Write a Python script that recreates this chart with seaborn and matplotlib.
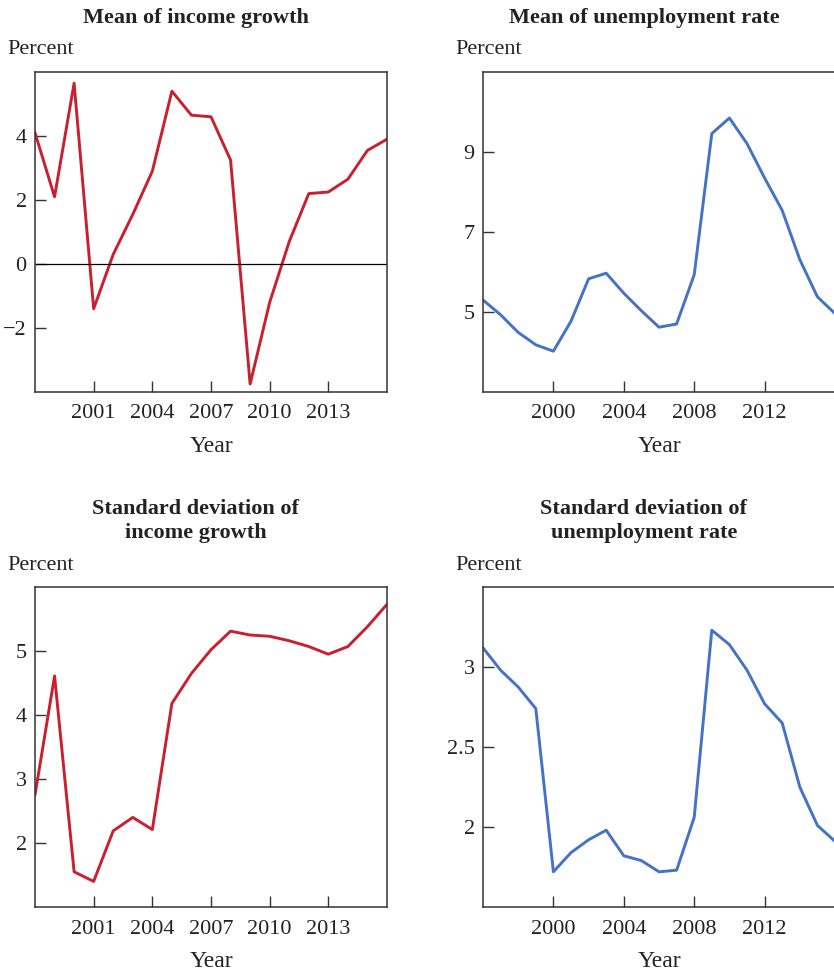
import numpy as np
import pandas as pd
import matplotlib.pyplot as plt
import seaborn as sns

# años
years_income = list(range(1998, 2017))
years_unemp = list(range(1996, 2017))

income_mean = [4.1, 2.1, 5.65, -1.4, 0.3, 1.55, 2.9, 5.4, 4.65, 4.6, 3.25,
               -3.75, -1.2, 0.7, 2.2, 2.25, 2.65, 3.55, 3.9]
income_sd = [2.75, 4.61, 1.55, 1.4, 2.19, 2.4, 2.21, 4.18, 4.65, 5.02, 5.31,
             5.25, 5.23, 5.16, 5.07, 4.95, 5.07, 5.38, 5.73]
unemp_mean = [5.3, 4.93, 4.49, 4.18, 4.02, 4.77, 5.83, 5.97, 5.47, 5.03, 4.62,
              4.7, 5.93, 9.46, 9.85, 9.21, 8.35, 7.54, 6.31, 5.38, 4.96]
unemp_sd = [3.12, 2.98, 2.875, 2.74, 1.72, 1.84, 1.92, 1.98, 1.82, 1.79, 1.72,
            1.73, 2.06, 3.23, 3.14, 2.98, 2.77, 2.65, 2.25, 2.01, 1.91]

titles = ['Mean of income growth', 'Mean of unemployment rate',
          'Standard deviation of\nincome growth', 'Standard deviation of\nunemployment rate']

RED = '#c8202f'
BLUE = '#4472c4'

sns.set_style('ticks')
plt.rcParams['font.family'] = ['Liberation Serif', 'DejaVu Serif']

W, H = 834, 972
fig = plt.figure(figsize=(W / 100, H / 100), dpi=100)


def add_axes(left, top, width=352, height=320):
    return fig.add_axes([left / W, 1 - (top + height) / H, width / W, height / H])


panels = [
    (35, 72, years_income, income_mean, RED, (1998, 2016), (-4, 6), [-2, 0, 2, 4],
     ['\u22122', '0', '2', '4'], [2001, 2004, 2007, 2010, 2013]),
    (483, 72, years_unemp, unemp_mean, BLUE, (1996, 2016), (3, 11), [5, 7, 9],
     ['5', '7', '9'], [2000, 2004, 2008, 2012]),
    (35, 587, years_income, income_sd, RED, (1998, 2016), (1, 6), [2, 3, 4, 5],
     ['2', '3', '4', '5'], [2001, 2004, 2007, 2010, 2013]),
    (483, 587, years_unemp, unemp_sd, BLUE, (1996, 2016), (1.5, 3.5), [2, 2.5, 3],
     ['2', '2.5', '3'], [2000, 2004, 2008, 2012]),
]

for i, (left, top, x, y, color, xlim, ylim, yt, ytl, xt) in enumerate(panels):
    ax = add_axes(left, top)
    df = pd.DataFrame({'Year': x, 'Value': y})
    sns.lineplot(data=df, x='Year', y='Value', color=color, linewidth=2.1, ax=ax)
    if i == 0:
        ax.axhline(0, color='black', linewidth=0.9)
    ax.set_xlim(*xlim)
    ax.set_ylim(*ylim)
    ax.set_xticks(xt)
    ax.set_xticklabels([str(v) for v in xt])
    ax.set_yticks(yt)
    ax.set_yticklabels(ytl)
    ax.tick_params(direction='in', length=8, width=1, colors='#333333',
                   labelcolor='#222222', labelsize=16)
    ax.tick_params(axis='x', pad=9)
    ax.tick_params(axis='y', pad=6)
    for s in ax.spines.values():
        s.set_visible(True)
        s.set_linewidth(1.1)
        s.set_color('#333333')
    ax.set_xlabel('Year', fontsize=17, color='#222222', labelpad=9)
    ax.set_ylabel('')

    cx = left + 161
    if i < 2:
        fig.text(cx / W, 1 - 18 / H, titles[i], ha='center', va='center',
                 fontsize=16, fontweight='bold', color='#222222')
        fig.text((left - 28) / W, 1 - 50 / H, 'Percent', ha='left', va='center',
                 fontsize=16, color='#222222')
    else:
        fig.text(cx / W, 1 - 521 / H, titles[i], ha='center', va='center',
                 fontsize=16, fontweight='bold', color='#222222', linespacing=1.25)
        fig.text((left - 28) / W, 1 - 566 / H, 'Percent', ha='left', va='center',
                 fontsize=16, color='#222222')

fig.savefig('out.png', dpi=100)
